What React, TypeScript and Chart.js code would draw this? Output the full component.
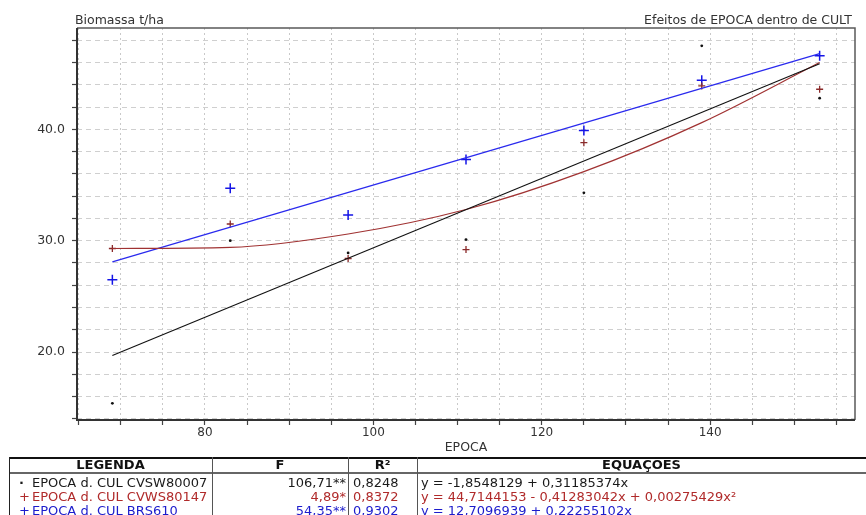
import React, { useEffect, useRef } from "react";
import { Chart, registerables } from "chart.js";

Chart.register(...registerables);

// ---- data ----
const epoca = [69, 83, 97, 111, 125, 139, 153];
const cvsw80007 = [15.4, 30.0, 28.9, 30.1, 34.3, 47.5, 42.8];
const cvws80147 = [29.3, 31.5, 28.4, 29.2, 38.8, 43.9, 43.6];
const brs610 = [26.5, 34.7, 32.3, 37.3, 39.9, 44.4, 46.6];

// fitted lines as drawn in the picture
const fitLineX = [69, 153];
const fitCvswY = [19.7, 45.9];
const fitBrsY = [28.1, 46.8];
const fitCvwsY = [29.3, 29.4, 30.6, 32.8, 36.2, 40.6, 46.0];

const xTickValues = [65, 70, 75, 80, 85, 90, 95, 100, 105, 110, 115, 120, 125, 130, 135, 140, 145, 150, 155];
const xLabelValues = [80, 100, 120, 140];
const yTickValues = [14, 16, 18, 20, 22, 24, 26, 28, 30, 32, 34, 36, 38, 40, 42, 44, 46, 48];
const yLabelValues = [20, 30, 40];

const legendLabels = ["EPOCA d. CUL CVSW80007", "EPOCA d. CUL CVWS80147", "EPOCA d. CUL BRS610"];
const legendMarks = ["\u00b7", "+", "+"];
const fValues = ["106,71**", "4,89*", "54,35**"];
const r2Values = ["0,8248", "0,8372", "0,9302"];
const equations = [
  "y = -1,8548129 + 0,31185374x",
  "y = 44,7144153 - 0,41283042x + 0,00275429x\u00b2",
  "y = 12,7096939 + 0,22255102x",
];
const textColors = ["#1a1a1a", "#b02a2a", "#1c1ccc"];

const FONT = "'DejaVu Sans', Verdana, sans-serif";

const pts = (xs: number[], ys: number[]) => xs.map((x, i) => ({ x, y: ys[i] }));

const framePlugin = {
  id: "frame",
  afterDraw(chart: any) {
    const { ctx, chartArea: a } = chart;
    ctx.save();
    ctx.setLineDash([]);
    ctx.strokeStyle = "#5a5a5a";
    ctx.lineWidth = 1.5;
    ctx.beginPath();
    ctx.moveTo(a.left, a.top);
    ctx.lineTo(a.right, a.top);
    ctx.lineTo(a.right, a.bottom);
    ctx.stroke();
    ctx.strokeStyle = "#333";
    ctx.lineWidth = 2;
    ctx.beginPath();
    ctx.moveTo(a.left, a.top);
    ctx.lineTo(a.left, a.bottom);
    ctx.lineTo(a.right, a.bottom);
    ctx.stroke();
    ctx.restore();
  },
};

function App() {
  const ref = useRef<HTMLCanvasElement | null>(null);

  useEffect(() => {
    if (!ref.current) return;
    const chart = new Chart(ref.current, {
      type: "scatter",
      data: {
        datasets: [
          {
            label: "fit CVSW80007",
            data: pts(fitLineX, fitCvswY),
            showLine: true,
            borderColor: "#111",
            borderWidth: 1.1,
            pointRadius: 0,
          },
          {
            label: "fit CVWS80147",
            data: pts(epoca, fitCvwsY),
            showLine: true,
            borderColor: "#a03232",
            borderWidth: 1.2,
            pointRadius: 0,
            cubicInterpolationMode: "monotone",
          },
          {
            label: "fit BRS610",
            data: pts(fitLineX, fitBrsY),
            showLine: true,
            borderColor: "#2a2aee",
            borderWidth: 1.2,
            pointRadius: 0,
          },
          {
            label: "CVSW80007",
            data: pts(epoca, cvsw80007),
            showLine: false,
            pointStyle: "circle",
            pointRadius: 1.4,
            backgroundColor: "#111",
            borderColor: "#111",
            borderWidth: 0,
          },
          {
            label: "CVWS80147",
            data: pts(epoca, cvws80147),
            showLine: false,
            pointStyle: "cross",
            pointRadius: 3.5,
            borderColor: "#8a2a2a",
            borderWidth: 1.3,
          },
          {
            label: "BRS610",
            data: pts(epoca, brs610),
            showLine: false,
            pointStyle: "cross",
            pointRadius: 5,
            borderColor: "#1414e6",
            borderWidth: 1.5,
          },
        ],
      },
      options: {
        animation: false,
        responsive: false,
        maintainAspectRatio: false,
        events: [],
        layout: { padding: { top: 28, right: 11, left: 0, bottom: 60 } },
        plugins: { legend: { display: false }, tooltip: { enabled: false }, title: { display: false } },
        scales: {
          x: {
            type: "linear",
            min: 64.8,
            max: 157.2,
            afterBuildTicks: (scale: any) => {
              scale.ticks = xTickValues.map((v) => ({ value: v }));
            },
            afterFit: (scale: any) => {
              scale.height = 35;
            },
            ticks: {
              autoSkip: false,
              maxRotation: 0,
              padding: 1,
              color: "#333",
              font: { family: FONT, size: 12 },
              callback: (v: any) => (xLabelValues.includes(Number(v)) ? String(v) : ""),
            },
            grid: {
              color: "#c9c9c9",
              lineWidth: 1,
              tickColor: "#444",
              tickLength: 5,
              tickWidth: 1.2,
            },
            border: { display: false, dash: [2, 3] },
            title: {
              display: true,
              text: "EPOCA",
              color: "#333",
              font: { family: FONT, size: 12.5 },
              padding: { top: 0, bottom: 0 },
            },
          },
          y: {
            type: "linear",
            min: 13.9,
            max: 49.1,
            afterBuildTicks: (scale: any) => {
              scale.ticks = yTickValues.map((v) => ({ value: v }));
            },
            afterFit: (scale: any) => {
              scale.width = 77;
            },
            ticks: {
              autoSkip: false,
              padding: 7,
              color: "#333",
              font: { family: FONT, size: 12.5 },
              callback: (v: any) => (yLabelValues.includes(Number(v)) ? Number(v).toFixed(1) : ""),
            },
            grid: {
              color: "#cfcfcf",
              lineWidth: 1,
              tickColor: "#444",
              tickLength: 5,
              tickWidth: 1.2,
            },
            border: { display: false, dash: [5, 4] },
          },
        },
      },
      plugins: [framePlugin],
    } as any);
    return () => chart.destroy();
  }, []);

  const colLeft = [9, 212, 348, 417];
  const colRight = [212, 348, 417, 866];
  const rowCenters = [483, 497, 511];

  const abs = (s: React.CSSProperties): React.CSSProperties => ({ position: "absolute", ...s });

  return (
    <div
      style={{
        position: "fixed",
        left: 0,
        top: 0,
        width: 866,
        height: 515,
        background: "#fff",
        overflow: "hidden",
        fontFamily: FONT,
      }}
    >
      <canvas ref={ref} width={866} height={515} style={{ position: "absolute", left: 0, top: 0, width: 866, height: 515 }} />
      <div style={abs({ left: 75, top: 12, fontSize: 12.5, lineHeight: "16px", color: "#333", whiteSpace: "nowrap" })}>
        Biomassa t/ha
      </div>
      <div style={abs({ right: 14, top: 12, fontSize: 12.5, lineHeight: "16px", color: "#333", whiteSpace: "nowrap" })}>
        Efeitos de EPOCA dentro de CULT
      </div>

      {/* table lines */}
      <div style={abs({ left: 9, top: 457, width: 857, height: 0, borderTop: "2px solid #111" })} />
      <div style={abs({ left: 9, top: 472, width: 857, height: 0, borderTop: "2px solid #666" })} />
      {colLeft.map((x, i) => (
        <div key={"v" + i} style={abs({ left: x, top: 457, width: 0, height: 60, borderLeft: i === 0 ? "1px solid #222" : "1px solid #555" })} />
      ))}

      {/* header */}
      {["LEGENDA", "F", "R\u00b2", "EQUA\u00c7\u00d5ES"].map((h, i) => (
        <div
          key={"h" + i}
          style={abs({
            left: colLeft[i],
            width: colRight[i] - colLeft[i],
            top: 458,
            height: 14,
            lineHeight: "14px",
            textAlign: "center",
            fontWeight: "bold",
            fontSize: 13,
            color: "#111",
            whiteSpace: "nowrap",
          })}
        >
          {h}
        </div>
      ))}

      {/* rows */}
      {legendLabels.map((lab, r) => (
        <React.Fragment key={"r" + r}>
          <div style={abs({ left: 19, top: rowCenters[r] - 8, height: 16, lineHeight: "16px", fontSize: 13, color: textColors[r], fontWeight: r === 0 ? "bold" : "normal" })}>
            {legendMarks[r]}
          </div>
          <div style={abs({ left: 32, top: rowCenters[r] - 8, height: 16, lineHeight: "16px", fontSize: 13, color: textColors[r], whiteSpace: "nowrap" })}>
            {lab}
          </div>
          <div style={abs({ left: 212, width: 346 - 212, textAlign: "right", top: rowCenters[r] - 8, height: 16, lineHeight: "16px", fontSize: 13, color: textColors[r], whiteSpace: "nowrap" })}>
            {fValues[r]}
          </div>
          <div style={abs({ left: 353, top: rowCenters[r] - 8, height: 16, lineHeight: "16px", fontSize: 13, color: textColors[r], whiteSpace: "nowrap" })}>
            {r2Values[r]}
          </div>
          <div style={abs({ left: 421, top: rowCenters[r] - 8, height: 16, lineHeight: "16px", fontSize: 13, color: textColors[r], whiteSpace: "nowrap" })}>
            {equations[r]}
          </div>
        </React.Fragment>
      ))}
    </div>
  );
}

export default App;
